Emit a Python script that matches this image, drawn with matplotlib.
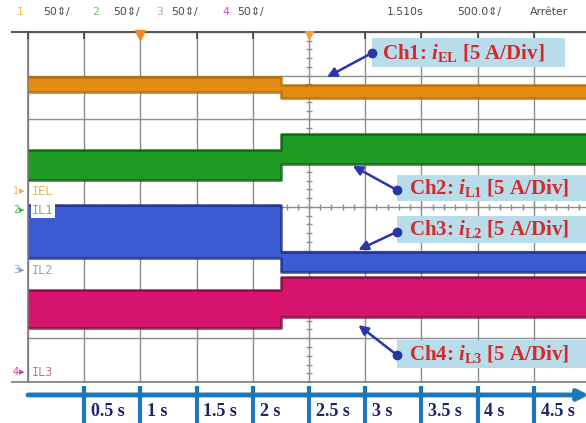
import matplotlib
matplotlib.use('Agg')
import matplotlib.pyplot as plt
import numpy as np
from matplotlib.patches import Rectangle

plt.rcParams['font.serif'] = ['Liberation Serif']
plt.rcParams['mathtext.fontset'] = 'custom'
plt.rcParams['mathtext.rm'] = 'serif:bold'
plt.rcParams['mathtext.it'] = 'serif:italic:bold'
plt.rcParams['mathtext.bf'] = 'serif:bold'

W, H = 586, 423

# ---------------- data ----------------
# time base 500 ms/div, 10 divisions on screen
time_ticks = [0.5, 1.0, 1.5, 2.0, 2.5, 3.0, 3.5, 4.0, 4.5]
time_labels = ["0.5 s", "1 s", "1.5 s", "2 s", "2.5 s", "3 s", "3.5 s", "4 s", "4.5 s"]
t_points = [0.0, 2.25, 5.0]          # start, load step, end of record (s)

# envelope (upper / lower edge) of each trace in divisions: [before step, after step]
ch1_hi = [2.97, 2.79]
ch1_lo = [2.63, 2.49]
ch2_hi = [1.30, 1.67]
ch2_lo = [0.62, 0.98]
ch3_hi = [0.05, -1.03]
ch3_lo = [-1.17, -1.49]
ch4_hi = [-1.90, -1.60]
ch4_lo = [-2.77, -2.51]

ch_labels = ["Ch1: $\\mathit{i}_{\\mathrm{EL}}$ [5 A/Div]",
             "Ch2: $\\mathit{i}_{\\mathrm{L1}}$ [5 A/Div]",
             "Ch3: $\\mathit{i}_{\\mathrm{L2}}$ [5 A/Div]",
             "Ch4: $\\mathit{i}_{\\mathrm{L3}}$ [5 A/Div]"]

header_items = [("1", "#f2b450"), ("50\u21d5/", "#4a4a4a"), ("2", "#74b874"), ("50\u21d5/", "#4a4a4a"),
                ("3", "#9eaac4"), ("50\u21d5/", "#4a4a4a"), ("4", "#d04ca8"), ("50\u21d5/", "#4a4a4a"),
                ("1.510s", "#4a4a4a"), ("500.0\u21d5/", "#4a4a4a"), ("Arr\u00eater", "#4a4a4a")]
header_x = [17, 43, 92, 113, 156, 171, 222, 237, 387, 457, 530]

# ---------------- figure ----------------
fig = plt.figure(figsize=(W / 100, H / 100), dpi=100)
fig.patch.set_facecolor('white')
ax = fig.add_axes([28 / W, 41 / H, 562 / W, 350 / H])
ax.set_xlim(0, 5)
ax.set_ylim(-4, 4)
ax.set_xticks(np.arange(0, 5.01, 0.5))
ax.set_yticks(np.arange(-4, 5, 1))
ax.tick_params(length=0, labelbottom=False, labelleft=False)
ax.grid(True, color='#8e8e8e', lw=1.0, zorder=0)
ax.set_axisbelow(True)
for s in ['left', 'bottom']:
    ax.spines[s].set_color('#7a7a7a')
    ax.spines[s].set_linewidth(1.2)
ax.spines['top'].set_color('#555555')
ax.spines['top'].set_linewidth(1.4)
ax.spines['right'].set_visible(False)

# centre graticule minor ticks
yy = np.arange(-4, 4.01, 0.2)
ax.plot([2.5] * len(yy), yy, ls='none', marker='_', ms=5, color='#8e8e8e', mew=1, zorder=1)
xx = np.arange(0, 5.01, 0.1)
ax.plot(xx, [0] * len(xx), ls='none', marker='|', ms=5, color='#8e8e8e', mew=1, zorder=1)
# top border ticks
ax.plot(np.arange(0, 5.01, 0.5), [3.93] * 11, ls='none', marker='|', ms=6, color='#444444', mew=1.2,
        zorder=3, clip_on=False)

# traces
traces = [(ch1_hi, ch1_lo, '#e38c14', '#b86800'),
          (ch2_hi, ch2_lo, '#1f9a22', '#0f5e12'),
          (ch3_hi, ch3_lo, '#3c5ad2', '#1c2c86'),
          (ch4_hi, ch4_lo, '#d6146e', '#7e0c3c')]
for hi, lo, c, ec in traces:
    hi3 = hi + [hi[-1]]
    lo3 = lo + [lo[-1]]
    ax.fill_between(t_points, lo3, hi3, step='post', color=c, lw=0, zorder=2)
    ax.step(t_points, hi3, where='post', color=ec, lw=1.8, alpha=0.85, zorder=2.5)
    ax.step(t_points, lo3, where='post', color=ec, lw=1.8, alpha=0.85, zorder=2.5)

# annotation boxes
boxes = [(3.06, 3.20, 1.72, 0.66), (3.28, 0.14, 2.0, 0.60), (3.28, -0.82, 2.0, 0.62), (3.28, -3.68, 2.0, 0.64)]
text_pos = [(3.15, 3.53), (3.39, 0.43), (3.39, -0.50), (3.39, -3.35)]
tails = [(3.06, 3.52), (3.28, 0.39), (3.28, -0.57), (3.28, -3.38)]
heads = [(2.66, 2.97), (2.89, 0.94), (2.94, -0.98), (2.94, -2.70)]
for (bx, by, bw, bh), (tx, ty), tail, head, lab in zip(boxes, text_pos, tails, heads, ch_labels):
    ax.add_patch(Rectangle((bx, by), bw, bh, facecolor='#b9dcea', edgecolor='none', zorder=4, clip_on=False))
    ax.text(tx, ty, lab, color='#d42a2a', fontsize=15, family='serif', fontweight='bold',
            ha='left', va='center', zorder=5, clip_on=False)
    ax.annotate('', xy=head, xytext=tail,
                arrowprops=dict(arrowstyle='-|>', color='#2a36a8', lw=1.8, mutation_scale=14,
                                shrinkA=0, shrinkB=0), zorder=5)
    ax.plot([tail[0]], [tail[1]], marker='o', ms=6, color='#2a36a8', zorder=6, clip_on=False)

# trigger markers at top
ax.plot([1.0], [3.93], marker='v', ms=7, color='#f08a1c', clip_on=False, zorder=6)
ax.plot([2.5], [3.93], marker='v', ms=6, color='#f0a040', clip_on=False, zorder=6)

# bottom time axis (blue arrow)
trans = ax.get_xaxis_transform()
blue = '#1c78b8'
ax.annotate('', xy=(4.99, -0.037), xytext=(0.0, -0.037), xycoords=trans, textcoords=trans,
            arrowprops=dict(arrowstyle='-|>', color=blue, lw=3.5, mutation_scale=16,
                            shrinkA=0, shrinkB=0), annotation_clip=False)
for tk, lab in zip(time_ticks, time_labels):
    ax.plot([tk, tk], [-0.012, -0.13], transform=trans, color=blue, lw=3, clip_on=False,
            solid_capstyle='butt')
    ax.text(tk + 0.06, -0.083, lab, transform=trans, family='serif', fontweight='bold',
            fontsize=13, color='#1b2466', ha='left', va='center', clip_on=False)

# header line
for (s, c), x in zip(header_items, header_x):
    fig.text(x / W, 1 - 12 / H, s, color=c, fontsize=7.8, family='DejaVu Sans', ha='left', va='center')
fig.add_artist(plt.Line2D([12 / W, 28 / W], [1 - 32 / H] * 2, color='#555555', lw=1.4))
fig.add_artist(plt.Line2D([12 / W, 28 / W], [1 - 382 / H] * 2, color='#7a7a7a', lw=1.2))

# channel reference markers and names
ch_marks = [("1", "#f0b040", 191, "IEL", "#e8b860"),
            ("2", "#50b050", 210, "IL1", "#70b070"),
            ("3", "#8f9ccc", 270, "IL2", "#9a9ad0"),
            ("4", "#d0409c", 372, "IL3", "#d068a8")]
for num, c, py, name, nc in ch_marks:
    fig.text(13 / W, 1 - py / H, num, color=c, fontsize=7, ha='left', va='center')
    fig.text(19 / W, 1 - py / H, "\u25b8", color=c, fontsize=8, ha='left', va='center')
    bb = dict(facecolor='white', edgecolor='none', pad=1.0) if name == "IL1" else None
    fig.text(32 / W, 1 - py / H, name, color=nc, fontsize=8.5, family='DejaVu Sans Mono',
             ha='left', va='center', bbox=bb, zorder=10)

fig.savefig('out.png', dpi=100)
